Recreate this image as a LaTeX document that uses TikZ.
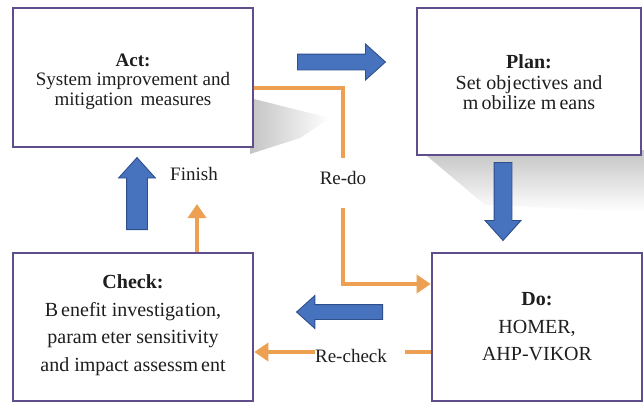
\documentclass[tikz,border=0pt]{standalone}
\usepackage{fontspec}
\setmainfont{Liberation Serif}
\usetikzlibrary{arrows.meta,shapes.arrows}
\definecolor{boxline}{RGB}{96,78,140}
\definecolor{bluefill}{RGB}{70,114,190}
\definecolor{bluedark}{RGB}{45,80,140}
\definecolor{orangeline}{RGB}{238,160,82}
\definecolor{txt}{RGB}{30,30,30}
\definecolor{shade}{RGB}{196,196,196}
\tikzset{
  pbox/.style={draw=boxline, line width=2.6pt, fill=white, inner sep=0pt},
  boxtext/.style={align=center, text=txt, inner sep=0pt},
  topfont/.style={font=\fontsize{19}{19.5}\selectfont},
  botfont/.style={font=\fontsize{20}{27.5}\selectfont},
  blockarrow/.style={single arrow, draw=bluedark, fill=bluefill, line width=0.9pt, inner xsep=0pt,
    minimum width=0pt, anchor=tail, single arrow tip angle=84, single arrow head indent=0pt},
  oline/.style={draw=orangeline, line width=3.6pt},
  oarrow/.style={oline, -{Triangle[width=18pt,length=14pt]}},
  lbl/.style={font=\fontsize{19}{21}\selectfont, text=txt, inner sep=0pt}
}
\begin{document}
\begin{tikzpicture}[x=1pt,y=-1pt]
\useasboundingbox[fill=white] (0,0) rectangle (644,405);
% soft shadows
\shade[left color=shade, right color=white] (250,98) -- (330,118) -- (300,138) -- (250,154) -- cycle;
\shade[top color=shade, bottom color=white] (420,150) -- (644,150) -- (644,212) -- (485,205) -- cycle;
% boxes
\node[pbox, minimum width=240pt, minimum height=139pt] (act) at (133,77.5) {};
\node[boxtext, topfont] (acttext) at ([yshift=-4pt]act.center)
  {\textbf{Act:}\\System improvement and\\mitigation\, measures};
\node[pbox, minimum width=224pt, minimum height=147pt] (plan) at (529,81.5) {};
\node[boxtext, font=\fontsize{20}{20.5}\selectfont] (plantext) at ([yshift=-1pt]plan.center)
  {\textbf{Plan:}\\Set obj\kern1pt ectives and\\m\kern3pt obilize m\kern3pt eans};
\node[pbox, minimum width=240pt, minimum height=148pt] (check) at (133,327) {};
\node[boxtext, botfont] (checktext) at ([yshift=2pt]check.center)
  {\textbf{Check:}\\B\kern3pt enefit investiga\kern1pt tion,\\param\kern4pt eter sensitivity\\and impact assessm\kern3pt ent};
\node[pbox, minimum width=210pt, minimum height=148pt] (do) at (537,327) {};
\node[boxtext, botfont] (dotext) at (do.center)
  {\textbf{Do:}\\HOMER,\\AHP-VIKOR};
% blue block arrows
\node[blockarrow, inner ysep=7.5pt, single arrow head extend=10pt, minimum height=88pt] (b1) at (297,62) {};
\node[blockarrow, inner ysep=8.5pt, single arrow head extend=9pt, minimum height=78pt, rotate=-90] (b2) at (503,162) {};
\node[blockarrow, inner ysep=7pt, single arrow head extend=9pt, minimum height=86pt, rotate=180] (b3) at (383,312) {};
\node[blockarrow, inner ysep=10pt, single arrow head extend=8pt, minimum height=72pt, rotate=90] (b4) at (137,230) {};
% labels
\node[lbl] (finish) at (194,174) {Finish};
\node[lbl] (redo) at (343,178) {Re-do};
\node[lbl] (recheck) at (351,356) {Re-check};
% orange connectors
\coordinate (r1) at (343,88);
\coordinate (r2) at (343,158);
\coordinate (r3) at (343,208);
\coordinate (r4) at (343,284);
\draw[oline, line join=miter] (act.east |- r1) -- (r1) -- (r2);
\draw[oarrow, line join=miter] (r3) -- (r4) -- (r4 -| do.west);
\coordinate (f1) at (197,204);
\draw[oarrow] (f1 |- check.north) -- (f1);
\coordinate (c1) at (405,352);
\draw[oline] (c1 -| do.west) -- (c1);
\draw[oarrow] (recheck.west |- c1) -- (c1 -| check.east);
\end{tikzpicture}
\end{document}
